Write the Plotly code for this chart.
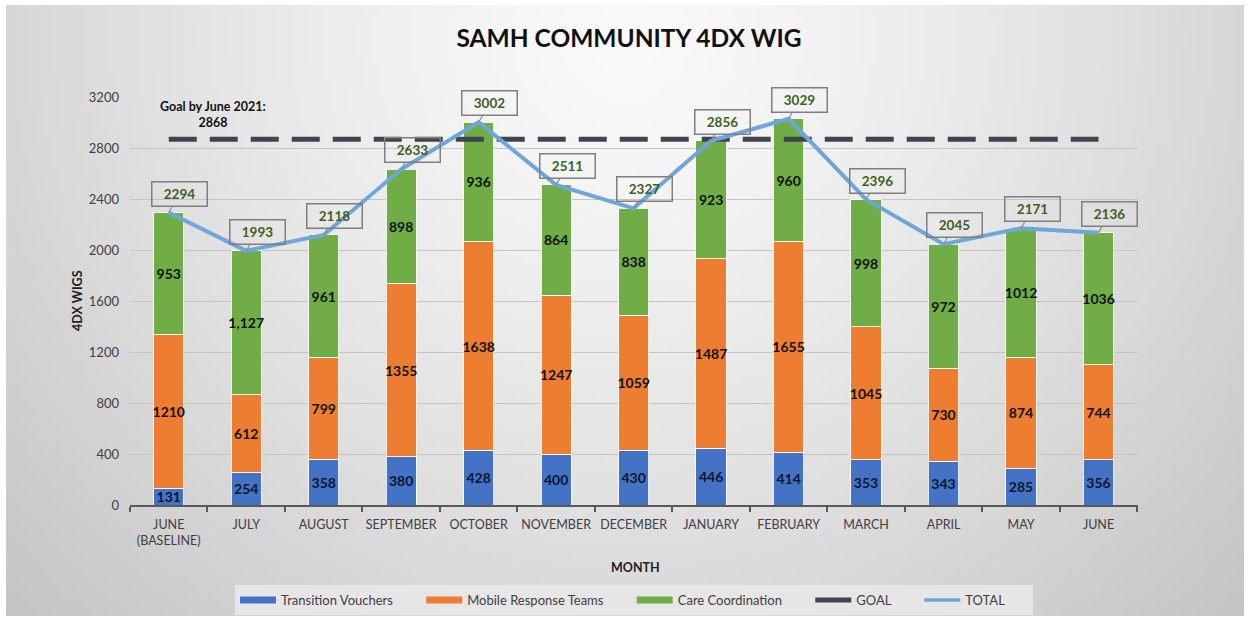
import base64, struct, zlib
import numpy as np
import plotly.graph_objects as go

months = ["JUNE<br>(BASELINE)", "JULY", "AUGUST", "SEPTEMBER", "OCTOBER", "NOVEMBER",
          "DECEMBER", "JANUARY", "FEBRUARY", "MARCH", "APRIL", "MAY", "JUNE"]
transition = [131, 254, 358, 380, 428, 400, 430, 446, 414, 353, 343, 285, 356]
mobile = [1210, 612, 799, 1355, 1638, 1247, 1059, 1487, 1655, 1045, 730, 874, 744]
care = [953, 1127, 961, 898, 936, 864, 838, 923, 960, 998, 972, 1012, 1036]
care_labels = ["953", "1,127", "961", "898", "936", "864", "838", "923", "960", "998", "972", "1012", "1036"]
totals = [2294, 1993, 2118, 2633, 3002, 2511, 2327, 2856, 3029, 2396, 2045, 2171, 2136]
goal = 2868
legend_names = ["Transition Vouchers", "Mobile Response Teams", "Care Coordination", "GOAL", "TOTAL"]

C_BLUE = "#4472c4"
C_ORANGE = "#ed7d31"
C_GREEN = "#70ad47"
C_GOAL = "#3e4550"
C_TOTAL = "#6ea6da"
FONT = "Lato"

# ---- background gradient as an inline PNG ----
W, H = 200, 100
xs = np.linspace(0, 1, W)[None, :]
ys = np.linspace(0, 1, H)[:, None]
d = np.sqrt(((xs - 0.5) / 0.5) ** 2 + ((ys - 0.05) / 1.0) ** 2) / np.sqrt(2)
v = np.clip(250 - 55 * d ** 1.3, 0, 255).astype(np.uint8)
rgb = np.repeat(v[:, :, None], 3, axis=2)
raw = b"".join(b"\x00" + rgb[r].tobytes() for r in range(H))
def chunk(t, data):
    c = struct.pack(">I", len(data)) + t + data
    return c + struct.pack(">I", zlib.crc32(t + data) & 0xffffffff)
png = b"\x89PNG\r\n\x1a\n" + chunk(b"IHDR", struct.pack(">IIBBBBB", W, H, 8, 2, 0, 0, 0)) \
      + chunk(b"IDAT", zlib.compress(raw, 9)) + chunk(b"IEND", b"")
bg_uri = "data:image/png;base64," + base64.b64encode(png).decode()

FIG_W, FIG_H = 1249, 621
ML, MR, MT, MB = 130, 111, 97, 116
PW = FIG_W - ML - MR
PH = FIG_H - MT - MB
def px(xp):
    return (xp - ML) / PW
def py(yp):
    return (FIG_H - MB - yp) / PH

fig = go.Figure()
bar_common = dict(marker_line_color="rgba(255,255,255,0.85)", marker_line_width=1,
                  textposition="inside", insidetextanchor="middle", textangle=0,
                  constraintext="none", showlegend=False, hoverinfo="skip")
fig.add_trace(go.Bar(x=months, y=transition, marker_color=C_BLUE, name=legend_names[0],
                     text=[str(t) for t in transition],
                     textfont=dict(family=FONT, size=14, color="#0c1530", weight="bold"), **bar_common))
fig.add_trace(go.Bar(x=months, y=mobile, marker_color=C_ORANGE, name=legend_names[1],
                     text=[str(t) for t in mobile],
                     textfont=dict(family=FONT, size=14, color="#111111", weight="bold"), **bar_common))
fig.add_trace(go.Bar(x=months, y=care, marker_color=C_GREEN, name=legend_names[2],
                     text=care_labels,
                     textfont=dict(family=FONT, size=14, color="#111111", weight="bold"), **bar_common))
fig.add_trace(go.Scatter(x=months, y=[goal] * len(months), mode="lines",
                         line=dict(color=C_GOAL, width=5, dash="28px,13px"),
                         showlegend=False, hoverinfo="skip"))
fig.add_trace(go.Scatter(x=months, y=totals, mode="lines",
                         line=dict(color=C_TOTAL, width=4),
                         showlegend=False, hoverinfo="skip"))

# legend entries (wide swatches like the original); nbsp padding widens spacing
PAD = "\u00a0" * 7
for name, col, w in zip(legend_names, [C_BLUE, C_ORANGE, C_GREEN, C_GOAL, C_TOTAL],
                        [7, 7, 7, 5, 3.5]):
    fig.add_trace(go.Scatter(x=[None], y=[None], mode="lines", name=name + PAD,
                             line=dict(color=col, width=w)))

# total callouts
for m, t in zip(months, totals):
    fig.add_annotation(x=m, y=t, text=f"<b>{t}</b>", showarrow=True, arrowhead=0,
                       arrowwidth=1.2, arrowcolor="#8a8a8a", ax=11, ay=-19,
                       width=50, height=19, borderpad=2, bordercolor="#7f7f7f",
                       borderwidth=1.5, bgcolor="rgba(0,0,0,0)",
                       font=dict(family=FONT, size=13.5, color="#405f25"))

fig.add_annotation(x=months[0], y=3060, xshift=44, text="<b>Goal by June 2021:<br>2868</b>",
                   showarrow=False, align="center",
                   font=dict(family=FONT, size=12.5, color="#111111"))

fig.add_annotation(xref="paper", yref="paper", x=px(77), y=py(301), text="<b>4DX WIGS</b>",
                   textangle=-90, showarrow=False, xanchor="center", yanchor="middle",
                   font=dict(family=FONT, size=12.5, color="#222222"))
fig.add_annotation(xref="paper", yref="paper", x=px(635), y=py(567), text="<b>MONTH</b>",
                   showarrow=False, xanchor="center", yanchor="middle",
                   font=dict(family=FONT, size=12.5, color="#222222"))

fig.update_layout(
    width=FIG_W, height=FIG_H,
    margin=dict(l=ML, r=MR, t=MT, b=MB, autoexpand=False),
    paper_bgcolor="white", plot_bgcolor="rgba(0,0,0,0)",
    barmode="stack", bargap=0.61,
    title=dict(text="<b>SAMH COMMUNITY 4DX WIG</b>", x=629 / FIG_W, xanchor="center",
               y=1 - 38 / FIG_H, yanchor="middle",
               font=dict(family=FONT, size=24.5, color="#111111")),
    images=[dict(source=bg_uri, xref="paper", yref="paper", x=px(6), y=py(5),
                 sizex=px(1244) - px(6), sizey=py(5) - py(616), sizing="stretch",
                 xanchor="left", yanchor="top", layer="below")],
    legend=dict(orientation="h", x=px(634), xanchor="center", y=py(585), yanchor="top",
                bgcolor="#e6e6e6", font=dict(family=FONT, size=13, color="#404040"),
                itemwidth=36, traceorder="normal"),
    xaxis=dict(showline=True, linecolor="#595959", linewidth=1.5, ticks="outside",
               tickson="boundaries", ticklen=5, tickcolor="#595959", tickwidth=1.5,
               tickangle=0, automargin=False, ticklabelstandoff=7,
               tickfont=dict(family=FONT, size=12.5, color="#404040"), showgrid=False,
               fixedrange=True),
    yaxis=dict(range=[0, 3200], dtick=400, showgrid=True, gridcolor="#c4c4c4", gridwidth=1,
               zeroline=False, showline=False, ticks="", ticklabelstandoff=10, automargin=False,
               tickfont=dict(family=FONT, size=13, color="#404040")),
)

fig.write_html("out.html", config={"displayModeBar": False},
               post_script="document.body.style.margin='0';document.body.style.overflow='hidden';")
